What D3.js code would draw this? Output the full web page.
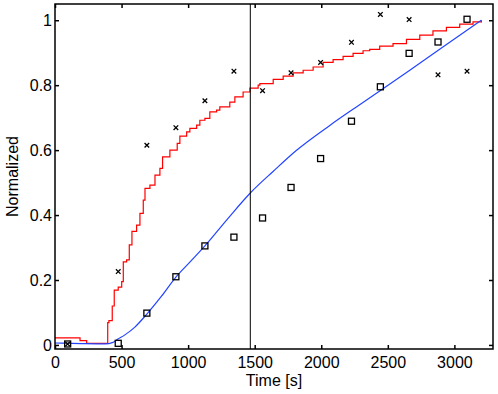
<!DOCTYPE html>
<html>
<head>
<meta charset="utf-8">
<script src="https://cdn.jsdelivr.net/npm/d3@7"></script>
<style>
  body { margin: 0; background: #fff; }
  svg { display: block; }
</style>
</head>
<body>
<svg id="chart" width="498" height="394"></svg>
<script>
// sample times for the markers (s)
let markerTimes = [95, 475, 690, 908, 1126, 1344, 1559, 1773, 1995, 2227, 2444, 2660, 2877, 3095];
let crossValues = [0.003, 0.226, 0.615, 0.669, 0.752, 0.843, 0.783, 0.838, 0.870, 0.932, 1.018, 1.002, 0.832, 0.843];
let squareValues = [0.003, 0.005, 0.098, 0.210, 0.305, 0.332, 0.391, 0.485, 0.574, 0.689, 0.795, 0.898, 0.933, 1.003];

// smooth blue curve
let blueTimes = [0, 200, 380, 430, 473, 525, 600, 690, 800, 908, 1020, 1126, 1300, 1467, 1640, 1810, 2064, 2250, 2439, 2665, 2900, 3203];
let blueValues = [0.006, 0.004, 0.003, 0.007, 0.018, 0.031, 0.055, 0.095, 0.150, 0.209, 0.258, 0.305, 0.390, 0.468, 0.535, 0.598, 0.676, 0.729, 0.782, 0.846, 0.914, 1.000];

// stepped red curve
let redTimes = [0, 188, 238, 388, 396, 405, 430, 445, 475, 501, 513, 538, 558, 578, 613, 638, 663, 676, 713, 751, 788, 808, 863, 918, 938, 989, 1013, 1064, 1088, 1126, 1163, 1214, 1238, 1313, 1351, 1413, 1464, 1526, 1539, 1639, 1714, 1789, 1864, 1939, 2014, 2089, 2164, 2239, 2314, 2364, 2439, 2539, 2640, 2740, 2839, 2940, 3040, 3140, 3203];
let redValues = [0.022, 0.013, 0.005, 0.005, 0.069, 0.075, 0.120, 0.169, 0.178, 0.195, 0.256, 0.262, 0.308, 0.350, 0.369, 0.405, 0.446, 0.482, 0.492, 0.523, 0.544, 0.579, 0.600, 0.621, 0.643, 0.656, 0.667, 0.677, 0.692, 0.698, 0.718, 0.723, 0.733, 0.748, 0.764, 0.779, 0.791, 0.800, 0.805, 0.818, 0.828, 0.838, 0.846, 0.856, 0.870, 0.879, 0.889, 0.898, 0.906, 0.910, 0.920, 0.928, 0.941, 0.954, 0.967, 0.978, 0.988, 0.995, 1.000];

let markerTime = 1467;

let xTicks = [0, 500, 1000, 1500, 2000, 2500, 3000];
let yTicks = [0, 0.2, 0.4, 0.6, 0.8, 1];
let xTitle = "Time [s]";
let yTitle = "Normalized";

let fontFamily = "'Liberation Sans', Arial, sans-serif";
let plotLeft = 55, plotRight = 493, plotTop = 4, plotBottom = 349;
let tickLen = 4;

function drawChart() {
    let svg = d3.select("#chart");

    let xScale = d3.scaleLinear().domain([0, 3290]).range([plotLeft, plotRight]);
    let yScale = d3.scaleLinear().domain([-0.0125, 1.05]).range([plotBottom, plotTop]);

    svg.append("clipPath").attr("id", "plotClip")
        .append("rect")
        .attr("x", plotLeft).attr("y", plotTop)
        .attr("width", plotRight - plotLeft).attr("height", plotBottom - plotTop);

    let plot = svg.append("g").attr("clip-path", "url(#plotClip)");

    // red stepped line
    let redLine = d3.line()
        .x(function(d, i) { return xScale(redTimes[i]); })
        .y(function(d) { return yScale(d); })
        .curve(d3.curveStepAfter);
    plot.append("path")
        .attr("d", redLine(redValues))
        .attr("fill", "none")
        .attr("stroke", "#ff0000")
        .attr("stroke-width", 1.2);

    // blue smooth line
    let blueLine = d3.line()
        .x(function(d, i) { return xScale(blueTimes[i]); })
        .y(function(d) { return yScale(d); })
        .curve(d3.curveMonotoneX);
    plot.append("path")
        .attr("d", blueLine(blueValues))
        .attr("fill", "none")
        .attr("stroke", "#2244ff")
        .attr("stroke-width", 1.2);

    // vertical marker
    plot.append("line")
        .attr("x1", xScale(markerTime)).attr("x2", xScale(markerTime))
        .attr("y1", plotTop).attr("y2", plotBottom)
        .attr("stroke", "#000").attr("stroke-width", 1);

    // squares
    plot.selectAll("rect.sq")
        .data(squareValues)
        .enter().append("rect")
        .attr("class", "sq")
        .attr("x", function(d, i) { return xScale(markerTimes[i]) - 3; })
        .attr("y", function(d) { return yScale(d) - 3; })
        .attr("width", 6).attr("height", 6)
        .attr("fill", "none")
        .attr("stroke", "#000")
        .attr("stroke-width", 1.3);

    // crosses
    let s = 2.3;
    crossValues.forEach(function(d, i) {
        let cx = xScale(markerTimes[i]), cy = yScale(d);
        plot.append("path")
            .attr("d", "M" + (cx - s) + "," + (cy - s) + "L" + (cx + s) + "," + (cy + s) +
                "M" + (cx - s) + "," + (cy + s) + "L" + (cx + s) + "," + (cy - s))
            .attr("stroke", "#000")
            .attr("stroke-width", 1.3);
    });

    // axes: MATLAB style box with inward ticks
    let xAxis = svg.append("g")
        .attr("transform", "translate(0," + plotBottom + ")")
        .call(d3.axisBottom(xScale).tickValues(xTicks).tickSize(-tickLen).tickPadding(8).tickFormat(d3.format("d")));
    let xAxisTop = svg.append("g")
        .attr("transform", "translate(0," + plotTop + ")")
        .call(d3.axisTop(xScale).tickValues(xTicks).tickSize(-tickLen).tickFormat(""));
    let yAxis = svg.append("g")
        .attr("transform", "translate(" + plotLeft + ",0)")
        .call(d3.axisLeft(yScale).tickValues(yTicks).tickSize(-tickLen).tickPadding(3).tickFormat(function(d) { return d; }));
    let yAxisRight = svg.append("g")
        .attr("transform", "translate(" + plotRight + ",0)")
        .call(d3.axisRight(yScale).tickValues(yTicks).tickSize(-tickLen).tickFormat(""));

    [xAxis, xAxisTop, yAxis, yAxisRight].forEach(function(ax) {
        ax.select("path.domain").remove();
        ax.selectAll("line").attr("stroke", "#000").attr("stroke-width", 1.5);
        ax.selectAll("text")
            .style("font-family", fontFamily)
            .style("font-size", "16px")
            .attr("fill", "#000");
    });

    svg.append("rect")
        .attr("x", plotLeft).attr("y", plotTop)
        .attr("width", plotRight - plotLeft).attr("height", plotBottom - plotTop)
        .attr("fill", "none")
        .attr("stroke", "#000")
        .attr("stroke-width", 1.5);

    // titles
    svg.append("text")
        .attr("x", (plotLeft + plotRight) / 2)
        .attr("y", 386)
        .attr("text-anchor", "middle")
        .style("font-family", fontFamily)
        .style("font-size", "16px")
        .text(xTitle);
    svg.append("text")
        .attr("transform", "translate(18," + ((plotTop + plotBottom) / 2) + ") rotate(-90)")
        .attr("text-anchor", "middle")
        .style("font-family", fontFamily)
        .style("font-size", "16px")
        .text(yTitle);
}

drawChart();
</script>
</body>
</html>
